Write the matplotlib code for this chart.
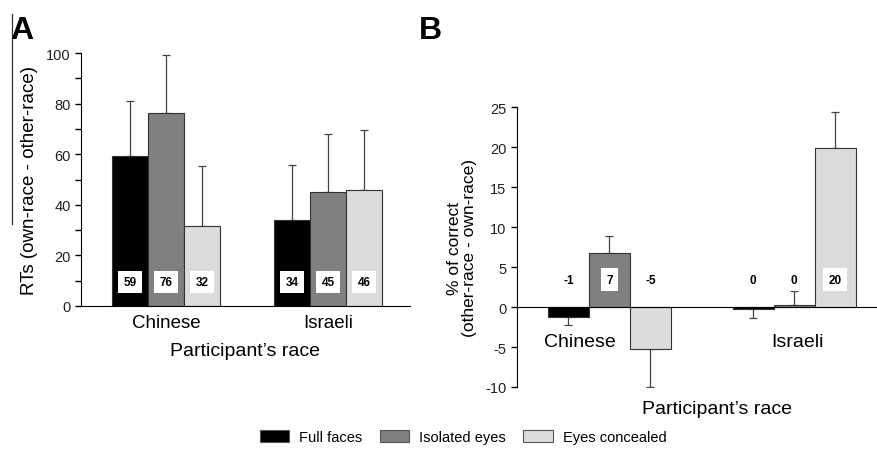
import numpy as np
import matplotlib.pyplot as plt
from matplotlib.lines import Line2D
from matplotlib.patches import Patch

plt.rcParams['font.family'] = ['Liberation Sans', 'DejaVu Sans']
plt.rcParams['axes.unicode_minus'] = False

# Data
groups = ['Chinese', 'Israeli']
conditions = ['Full faces', 'Isolated eyes', 'Eyes concealed']
colors = ['#000000', '#808080', '#dcdcdc']

# Panel A: RT difference (ms)
rt_means = np.array([[59.4, 34.0],
                     [76.3, 45.2],
                     [31.8, 46.0]])
rt_err = np.array([[21.6, 21.8],
                   [22.9, 22.8],
                   [23.5, 23.5]])
rt_labels = [['59', '34'], ['76', '45'], ['32', '46']]

# Panel B: accuracy difference (%)
acc_means = np.array([[-1.2, -0.3],
                      [6.7, 0.3],
                      [-5.2, 19.9]])
acc_err = np.array([[1.0, 1.1],
                    [2.2, 1.7],
                    [4.8, 4.5]])
acc_labels = [['-1', '0'], ['7', '0'], ['-5', '20']]

fig = plt.figure(figsize=(8.77, 4.52), dpi=100)
x = np.arange(len(groups))
w = 0.222

box = dict(boxstyle='square,pad=0.45', fc='white', ec='none')


def draw_bars(ax, means, errs, labels, label_y, width):
    for i in range(len(conditions)):
        pos = x + (i - 1) * width
        m = means[i]
        up = np.where(m >= 0, errs[i], 0)
        lo = np.where(m < 0, errs[i], 0)
        ax.bar(pos, m, width, color=colors[i], edgecolor='#333333',
               linewidth=0.8, zorder=2)
        ax.errorbar(pos, m, yerr=[lo, up], fmt='none', ecolor='#444444',
                    elinewidth=0.9, capsize=3, capthick=0.9, zorder=1)
        for p, lab in zip(pos, labels[i]):
            ax.text(p, label_y, lab, ha='center', va='center', fontsize=8.5,
                    fontweight='bold', bbox=box, zorder=3)


# Panel A
axA = fig.add_axes([0.0924, 0.3208, 0.375, 0.5597])
draw_bars(axA, rt_means, rt_err, rt_labels, 9.5, w)
axA.set_xlim(-0.525, 1.506)
axA.set_ylim(0, 100)
axA.set_yticks(np.arange(0, 101, 20))
axA.set_yticks(np.arange(10, 100, 20), minor=True)
axA.tick_params(axis='y', which='both', direction='out', labelsize=10.5,
                width=1, length=4, labelcolor='#222222')
axA.set_xticks(x)
axA.set_xticklabels(groups, fontsize=13.5)
axA.tick_params(axis='x', length=0, pad=6)
for s in ['top', 'right']:
    axA.spines[s].set_visible(False)
axA.set_ylabel('RTs (own-race - other-race)', fontsize=13.5, labelpad=6)
axA.set_xlabel('Participant\u2019s race', fontsize=14, labelpad=8)

# Panel B
axB = fig.add_axes([0.5895, 0.1416, 0.41, 0.6194])
draw_bars(axB, acc_means, acc_err, acc_labels, 3.4, w)
axB.set_xlim(-0.5, 1.446)
axB.set_ylim(-10, 25)
axB.set_yticks(np.arange(-10, 26, 5))
axB.tick_params(axis='y', direction='out', labelsize=10.5, width=1, length=4,
                labelcolor='#222222')
axB.set_xticks([])
axB.spines['bottom'].set_position(('data', 0))
for s in ['top', 'right']:
    axB.spines[s].set_visible(False)
axB.set_ylabel('% of correct\n(other-race - own-race)', fontsize=12.5,
               labelpad=6, linespacing=1.0)
axB.text(-0.16, -4.3, 'Chinese', ha='center', va='center', fontsize=14)
axB.text(1.02, -4.3, 'Israeli', ha='center', va='center', fontsize=14)
axB.set_xlabel('Participant\u2019s race', fontsize=14)
axB.xaxis.set_label_coords(0.555, -0.045)

# Panel letters and odd rule beside A's label
fig.text(0.012, 0.965, 'A', fontsize=23, fontweight='bold', va='top')
fig.text(0.478, 0.965, 'B', fontsize=23, fontweight='bold', va='top')
fig.add_artist(Line2D([0.0137, 0.0137], [1 - 15 / 452, 1 - 225 / 452],
                      color='#333333', linewidth=0.9))

handles = [Patch(facecolor=c, edgecolor='#555555', linewidth=0.8) for c in colors]
fig.legend(handles, conditions, loc='center', bbox_to_anchor=(0.528, 0.031),
           ncol=3, frameon=False, fontsize=10.5, handlelength=2.0,
           handleheight=0.9, columnspacing=1.2, handletextpad=0.7)

fig.savefig('out.png', dpi=100)
